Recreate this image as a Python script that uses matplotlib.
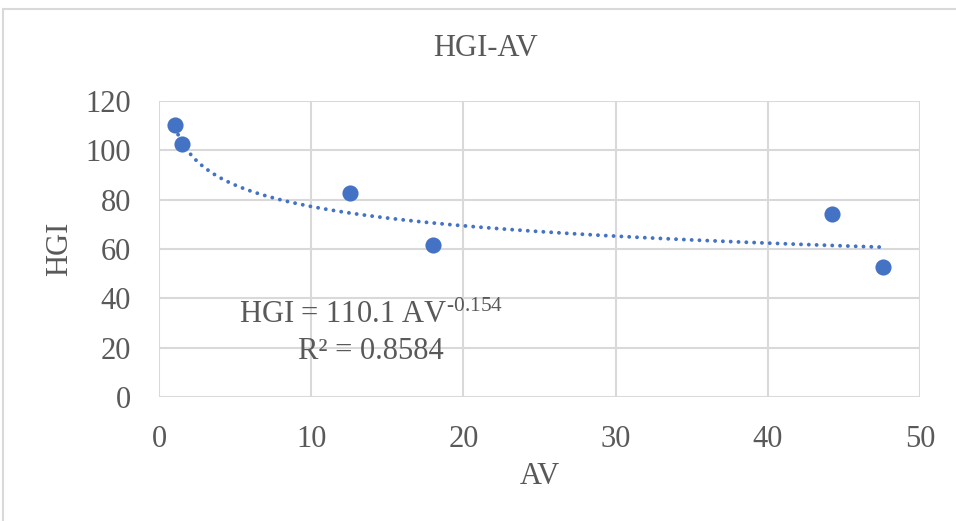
import numpy as np
import matplotlib
matplotlib.use("Agg")
import matplotlib.pyplot as plt
from matplotlib.patches import Rectangle

# Data
av = [1.05, 1.5, 12.55, 18.0, 44.2, 47.6]
hgi = [110.3, 102.6, 82.7, 61.6, 74.2, 52.7]
coef_a = 110.1
coef_b = -0.154
r2 = 0.8584
x_ticks = [0, 10, 20, 30, 40, 50]
y_ticks = [0, 20, 40, 60, 80, 100, 120]

plt.rcParams['font.family'] = ['Liberation Serif', 'DejaVu Serif']
plt.rcParams['mathtext.fontset'] = 'custom'
plt.rcParams['mathtext.rm'] = 'Liberation Serif'
plt.rcParams['mathtext.it'] = 'Liberation Serif:italic'
plt.rcParams['mathtext.bf'] = 'Liberation Serif:bold'

txt = '#595959'
grid_c = '#d9d9d9'
blue = '#4472C4'
fs = 22

fig = plt.figure(figsize=(9.56, 5.21), dpi=100)
fig.patch.set_facecolor('white')
fig.patches.append(Rectangle((3/956, -0.1), 1.2, 1 - 9/521 + 0.1, transform=fig.transFigure,
                             fill=False, edgecolor=grid_c, linewidth=1.5, zorder=0))

ax = fig.add_axes([159/956, 1 - 397/521, (920 - 159)/956, (397 - 101)/521])
ax.set_xlim(0, 50)
ax.set_ylim(0, 120)
ax.set_xticks(x_ticks)
ax.set_yticks(y_ticks)
ax.grid(True, color=grid_c, linewidth=1.5)
ax.set_axisbelow(True)
for s in ax.spines.values():
    s.set_visible(False)
ax.tick_params(length=0, labelsize=fs, colors=txt)
ax.tick_params(axis='x', pad=20)
ax.tick_params(axis='y', pad=20)

xt = np.linspace(min(av), max(av), 300)
ax.plot(xt, coef_a * xt ** coef_b, color=blue, linewidth=2.8,
        linestyle=(0, (0.01, 2.0)), dash_capstyle='round', zorder=2)
ax.scatter(av, hgi, s=135, color=blue, zorder=3, linewidths=0)

exp_str = ('%.3f' % coef_b).replace('-', '\u2010')
ax.text(13.9, 33, r'HGI = %.1f AV$^{\mathrm{%s}}$' % (coef_a, exp_str), fontsize=fs,
        color=txt, ha='center', va='center')
ax.text(13.9, 18.5, 'R² = %.4f' % r2, fontsize=fs, color=txt, ha='center', va='center')

ax.set_xlabel('AV', fontsize=fs, color=txt, labelpad=6)
ax.set_ylabel('HGI', fontsize=fs, color=txt, labelpad=8)
fig.text(486/956, 1 - 48/521, 'HGI-AV', fontsize=22, color=txt, ha='center', va='center')

fig.savefig('out.png', dpi=100, facecolor='white')
